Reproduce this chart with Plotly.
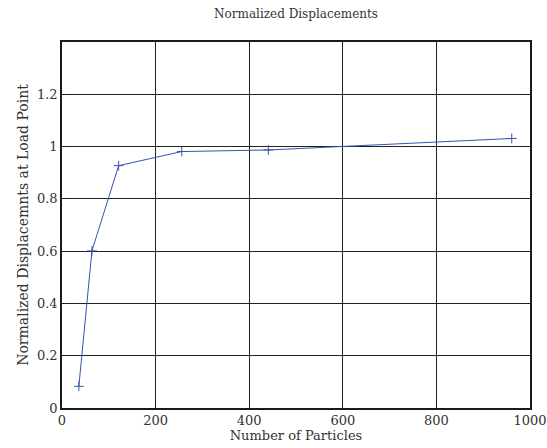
import plotly.graph_objects as go

# Convergence of load-point displacement with particle count
particles = [36, 64, 121, 256, 441, 961]
norm_disp = [0.083, 0.601, 0.927, 0.981, 0.987, 1.031]

x_ticks = [0, 200, 400, 600, 800, 1000]
y_ticks = [0, 0.2, 0.4, 0.6, 0.8, 1.0, 1.2]
y_tick_text = ["0", "0.2", "0.4", "0.6", "0.8", "1", "1.2"]

FONT = "DejaVu Serif"
LINE_BLUE = "#3552b0"

fig = go.Figure(
    go.Scatter(
        x=particles,
        y=norm_disp,
        mode="lines+markers",
        line=dict(color=LINE_BLUE, width=1),
        marker=dict(symbol="cross-thin", size=7, line=dict(color=LINE_BLUE, width=1)),
        showlegend=False,
    )
)

axis_common = dict(
    showline=True,
    linecolor="#1a1a1a",
    linewidth=1.5,
    mirror="ticks",
    ticks="inside",
    ticklen=5,
    tickcolor="#1a1a1a",
    showgrid=True,
    gridcolor="#222222",
    gridwidth=1,
    zeroline=False,
    automargin=False,
    tickfont=dict(family=FONT, size=13, color="#333333"),
)

fig.update_layout(
    width=547,
    height=448,
    margin=dict(l=62, r=17, t=42, b=40),
    paper_bgcolor="white",
    plot_bgcolor="white",
    title=dict(
        text="Normalized Displacements",
        x=(62 + 530) / 2 / 547,
        xanchor="center",
        y=1 - 14 / 448,
        yanchor="middle",
        font=dict(family=FONT, size=12, color="#333333"),
    ),
    xaxis=dict(
        range=[0, 1000],
        tickvals=x_ticks,
        ticktext=[str(v) for v in x_ticks],
        title=dict(
            text="Number of Particles",
            font=dict(family=FONT, size=13, color="#333333"),
            standoff=0,
        ),
        **axis_common,
    ),
    yaxis=dict(
        range=[0, 1.4],
        tickvals=y_ticks,
        ticktext=y_tick_text,
        title=dict(
            text="Normalized Displacemnts at Load Point",
            font=dict(family=FONT, size=14, color="#333333"),
            standoff=5,
        ),
        **axis_common,
    ),
)

fig.write_html("out.html")
